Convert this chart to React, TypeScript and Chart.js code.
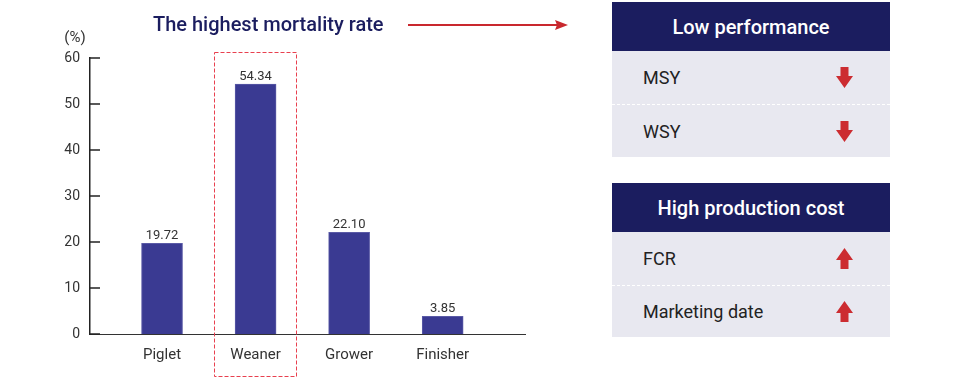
import React, { useEffect, useRef } from "react";
import { Chart, registerables } from "chart.js";

Chart.register(...registerables);

const categories = ["Piglet", "Weaner", "Grower", "Finisher"];
const mortality = [19.72, 54.34, 22.1, 3.85];
const yTicks = [0, 10, 20, 30, 40, 50, 60];
const highlightIndex = 1;
const titleText = "The highest mortality rate";
const unitText = "(%)";
const lowPerformance = ["MSY", "WSY"];
const highCost = ["FCR", "Marketing date"];

const FONT = "Roboto, 'Noto Sans', Arial, sans-serif";
const NAVY = "#1b1d5f";
const RED = "#c9282e";

const overlayPlugin = {
  id: "overlay",
  afterDraw(chart: any) {
    const { ctx, chartArea } = chart;
    const xs = chart.scales.x;
    const ys = chart.scales.y;
    ctx.save();
    // inner tick marks on y axis
    ctx.strokeStyle = "#222";
    ctx.lineWidth = 1.5;
    yTicks.forEach((v) => {
      const y = ys.getPixelForValue(v);
      ctx.beginPath();
      ctx.moveTo(chartArea.left, y);
      ctx.lineTo(chartArea.left + 10, y);
      ctx.stroke();
    });
    // unit label
    ctx.fillStyle = "#333";
    ctx.font = `15px ${FONT}`;
    ctx.textAlign = "center";
    ctx.textBaseline = "middle";
    ctx.fillText(unitText, chartArea.left - 15, 38);
    // data labels
    ctx.font = `13px ${FONT}`;
    ctx.textBaseline = "alphabetic";
    mortality.forEach((v, i) => {
      const x = xs.getPixelForValue(i);
      const y = ys.getPixelForValue(v);
      ctx.fillText(v.toFixed(2), x, y - 4);
    });
    // dashed highlight box
    const step = xs.getPixelForValue(1) - xs.getPixelForValue(0);
    const cx = xs.getPixelForValue(highlightIndex);
    const half = step * 0.44;
    ctx.strokeStyle = "#e8404f";
    ctx.lineWidth = 1;
    ctx.setLineDash([4, 2]);
    ctx.strokeRect(Math.round(cx - half) + 0.5, 52.5, Math.round(half * 2), 324);
    ctx.setLineDash([]);
    // title
    ctx.fillStyle = NAVY;
    ctx.font = `500 20px ${FONT}`;
    ctx.textAlign = "left";
    ctx.textBaseline = "middle";
    ctx.fillText(titleText, 153, 26);
    // arrow
    ctx.strokeStyle = RED;
    ctx.fillStyle = RED;
    ctx.lineWidth = 2;
    ctx.beginPath();
    ctx.moveTo(408, 25);
    ctx.lineTo(560, 25);
    ctx.stroke();
    ctx.beginPath();
    ctx.moveTo(568, 25);
    ctx.lineTo(555, 20);
    ctx.lineTo(557, 25);
    ctx.lineTo(555, 30);
    ctx.closePath();
    ctx.fill();
    ctx.restore();
  },
};

function BarChart() {
  const ref = useRef<HTMLCanvasElement | null>(null);
  useEffect(() => {
    if (!ref.current) return;
    const chart = new Chart(ref.current, {
      type: "bar",
      data: {
        datasets: [
          {
            data: mortality.map((v, i) => ({ x: i, y: v })),
            backgroundColor: "#3a3a92",
            borderColor: "#5a5aa6",
            borderWidth: 1,
            barThickness: 41,
          },
        ],
      },
      options: {
        animation: false,
        responsive: false,
        maintainAspectRatio: false,
        layout: { padding: { left: 0, right: 75, top: 58, bottom: 0 } },
        plugins: { legend: { display: false }, tooltip: { enabled: false } },
        scales: {
          x: {
            type: "linear",
            offset: false,
            min: -0.77,
            max: 3.88,
            grid: { display: false, drawTicks: false, offset: false },
            border: { display: true, color: "#333", width: 1 },
            ticks: {
              stepSize: 1,
              autoSkip: false,
              maxRotation: 0,
              padding: 12,
              color: "#333",
              font: { family: FONT, size: 15 },
              callback: (v: any) =>
                Number.isInteger(v) && v >= 0 && v < categories.length ? categories[v] : "",
            },
            afterFit: (s: any) => {
              s.height = 47;
            },
          },
          y: {
            min: 0,
            max: 60,
            grid: { display: false, drawTicks: false },
            border: { display: true, color: "#222", width: 1.5 },
            ticks: {
              stepSize: 10,
              padding: 10,
              color: "#333",
              font: { family: FONT, size: 14 },
            },
            afterFit: (s: any) => {
              s.width = 90;
            },
          },
        },
      },
      plugins: [overlayPlugin],
    });
    return () => chart.destroy();
  }, []);
  return (
    <canvas
      ref={ref}
      width={600}
      height={381}
      style={{ position: "absolute", left: 0, top: 0, width: 600, height: 381 }}
    />
  );
}

function Arrow({ up }: { up: boolean }) {
  return (
    <svg width="17" height="21" viewBox="0 0 17 21" style={{ display: "block" }}>
      {up ? (
        <polygon points="8.5,0 17,12 12.5,12 12.5,21 4.5,21 4.5,12 0,12" fill="#cc2c31" />
      ) : (
        <polygon points="4.5,0 12.5,0 12.5,9 17,9 8.5,21 0,9 4.5,9" fill="#cc2c31" />
      )}
    </svg>
  );
}

function Panel({
  top,
  title,
  rows,
  up,
  rowH,
}: {
  top: number;
  title: string;
  rows: string[];
  up: boolean;
  rowH: number;
}) {
  return (
    <div style={{ position: "absolute", left: 612, top, width: 278, fontFamily: FONT }}>
      <div
        style={{
          height: 49,
          background: NAVY,
          color: "#fff",
          fontSize: 20,
          fontWeight: 500,
          display: "flex",
          alignItems: "center",
          justifyContent: "center",
        }}
      >
        {title}
      </div>
      <div style={{ background: "#e8e8f0" }}>
        {rows.map((r, i) => (
          <div
            key={r}
            style={{
              height: rowH,
              boxSizing: "border-box",
              display: "flex",
              alignItems: "center",
              justifyContent: "space-between",
              padding: "0 37px 0 31px",
              fontSize: 18,
              color: "#222",
              borderTop: i > 0 ? "1px dashed #ffffff" : "none",
            }}
          >
            <span>{r}</span>
            <Arrow up={up} />
          </div>
        ))}
      </div>
    </div>
  );
}

export default function App() {
  return (
    <div
      style={{
        position: "absolute",
        left: 0,
        top: 0,
        width: 969,
        height: 381,
        background: "#fff",
        overflow: "hidden",
      }}
    >
      <BarChart />
      <Panel top={2} title="Low performance" rows={lowPerformance} up={false} rowH={53} />
      <Panel top={183} title="High production cost" rows={highCost} up={true} rowH={52.5} />
    </div>
  );
}
